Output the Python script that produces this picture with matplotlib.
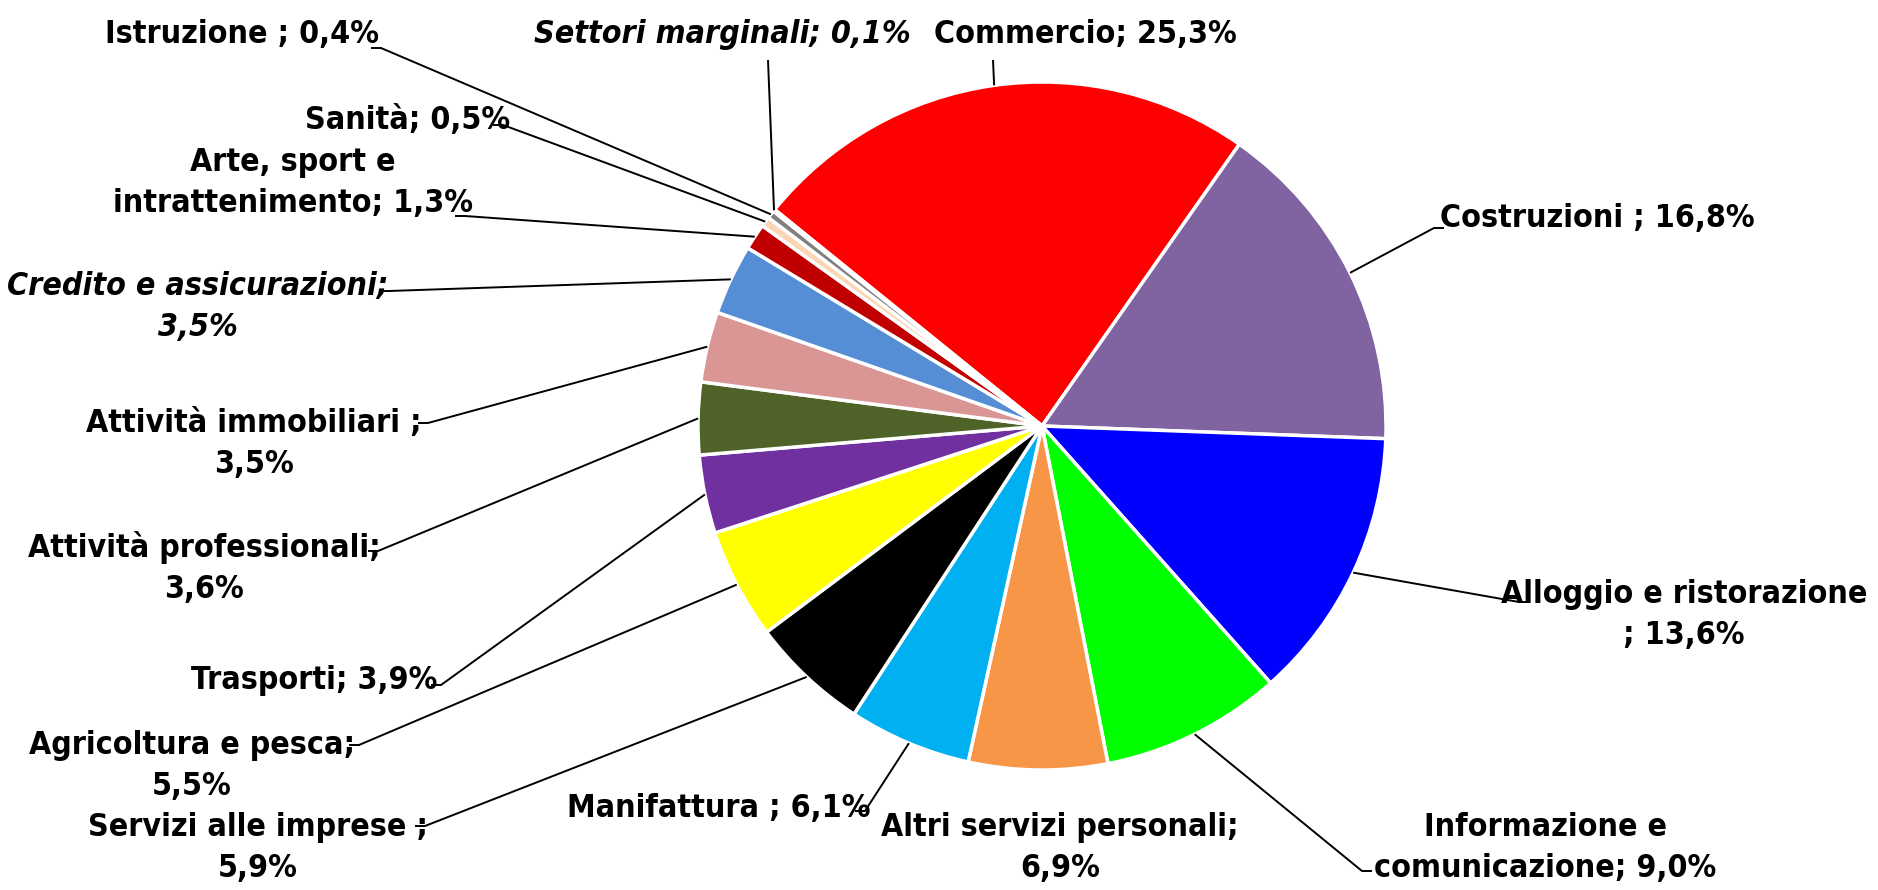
import matplotlib
matplotlib.use('Agg')
from matplotlib import pyplot as plt
from matplotlib import font_manager as fm
import numpy as np

sectors = ['Commercio', 'Costruzioni ', 'Alloggio e ristorazione', 'Informazione e\ncomunicazione',
           'Altri servizi personali', 'Manifattura ', 'Servizi alle imprese ', 'Agricoltura e pesca',
           'Trasporti', 'Attività professionali', 'Attività immobiliari ', 'Credito e assicurazioni',
           'Arte, sport e\nintrattenimento', 'Sanità', 'Istruzione ', 'Settori marginali']
values = [25.3, 16.8, 13.6, 9.0, 6.9, 6.1, 5.9, 5.5, 3.9, 3.6, 3.5, 3.5, 1.3, 0.5, 0.4, 0.1]
colors = ['#FF0000', '#8064A2', '#0000FF', '#00FF00', '#F79646', '#00B0F0', '#000000', '#FFFF00',
          '#7030A0', '#4F6228', '#D99694', '#558ED5', '#C00000', '#FCD5B5', '#808080', '#D9D9D9']
italic = ['Settori marginali', 'Credito e assicurazioni']
# what goes between name and value
seps = ['; ', '; ', '\n; ', '; ', ';\n', '; ', ';\n', ';\n', '; ', ';\n', ';\n', ';\n', '; ', '; ', '; ', '; ']

W, H = 1878, 890
cx, cy, R = 1042, H - 426, 344

# label layout in image pixels (y down): text centre, leader start near text (None = no leader)
label_pos = [(1085, 34), (1597, 218), (1684, 615), (1545, 848), (1060, 848), (719, 808),
             (258, 848), (192, 766), (314, 680), (204, 568), (254, 444), (198, 307),
             (293, 183), (408, 120), (242, 34), (722, 34)]
lead_pos = [(993, 60), (1434, 228), (1519, 602), (1362, 871), None, (865, 811),
            (425, 826), (359, 745), (441, 685), (378, 551), (428, 423), (389, 291),
            (465, 216), (503, 125), (381, 48), (768, 60)]
tick_dir = [0, 1, 1, 1, 0, -1, -1, -1, -1, -1, -1, -1, -1, -1, -1, 0]


def find_font(keys, italic_style):
    for key in keys:
        for f in fm.fontManager.ttflist:
            n = f.fname.replace('-', '').replace('_', '').lower()
            if key in n and f.weight in ('bold', 700) and ((f.style == 'italic' or f.style == 'oblique') == italic_style):
                return f.fname
    return None


keys = ['liberationsansnarrow', 'dejavusanscondensed', 'condensed', 'narrow']
f_reg = find_font(keys, False)
f_ita = find_font(keys, True)
if f_reg:
    fp_reg = fm.FontProperties(fname=f_reg, size=23)
    fp_ita = fm.FontProperties(fname=f_ita or f_reg, size=23)
else:
    fp_reg = fm.FontProperties(family='DejaVu Sans', weight='bold', size=20)
    fp_ita = fm.FontProperties(family='DejaVu Sans', weight='bold', style='italic', size=20)

fig = plt.figure(figsize=(W / 100, H / 100), dpi=100)
ax = fig.add_axes([0, 0, 1, 1])

wedges, _ = ax.pie(values, colors=colors, startangle=141, counterclock=False,
                   center=(cx, cy), radius=R, frame=True,
                   wedgeprops=dict(edgecolor='white', linewidth=2.5))
ax.set_xlim(0, W)
ax.set_ylim(0, H)
ax.set_aspect('equal')
ax.axis('off')

for i, w in enumerate(wedges):
    val = ('%.1f' % values[i]).replace('.', ',') + '%'
    txt = sectors[i] + seps[i] + val
    tx, ty = label_pos[i]
    fp = fp_ita if sectors[i] in italic else fp_reg
    ax.text(tx, H - ty, txt, ha='center', va='center', fontproperties=fp, linespacing=1.45)
    if lead_pos[i] is not None:
        ang = np.deg2rad((w.theta1 + w.theta2) / 2)
        px = cx + R * np.cos(ang)
        py = cy + R * np.sin(ang)
        lx, ly = lead_pos[i]
        ly = H - ly
        xs = [px, lx]
        ys = [py, ly]
        if tick_dir[i] != 0:
            xs.append(lx + 10 * tick_dir[i])
            ys.append(ly)
        ax.plot(xs, ys, color='black', linewidth=1.4, solid_capstyle='butt')

plt.savefig('out.png', dpi=100)
